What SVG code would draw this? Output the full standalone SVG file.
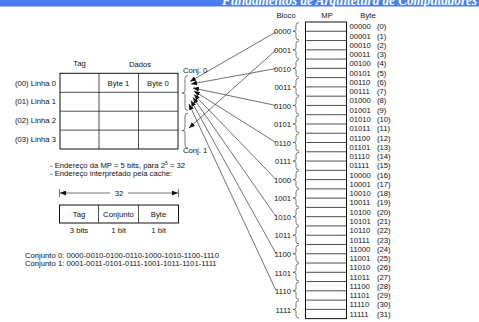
<svg xmlns="http://www.w3.org/2000/svg" width="479" height="322" viewBox="0 0 479 322">
<style>
text{font-family:"Liberation Sans",Arial,sans-serif;font-size:7.7px;fill:#111}
.c{text-anchor:middle}
.r{text-anchor:end}
.ln{fill:none;stroke:#111;stroke-width:0.6}
.bx{fill:#fff;stroke:#111;stroke-width:1}
.gr{fill:none;stroke:#222;stroke-width:0.8}
.br{fill:none;stroke:#222;stroke-width:0.6}
</style>
<defs>
<marker id="ah" markerUnits="userSpaceOnUse" markerWidth="6" markerHeight="5" refX="6" refY="2.5" orient="auto"><path d="M0,0 L6,2.5 L0,5 z" fill="#111"/></marker>
<path id="bm" d="M6.5,0.6 Q3.5,0.6 3.5,3 L3.5,7.4 Q3.5,9.27 0.5,9.27 Q3.5,9.27 3.5,11.1 L3.5,15.6 Q3.5,17.9 6.5,17.9"/>
<path id="bl" d="M6,0.5 Q3,0.5 3,3.5 L3,16 Q3,18 0,18 Q3,18 3,20 L3,32.5 Q3,35.5 6,35.5"/>
</defs>
<g id="header">
<rect x="0" y="0" width="479" height="6.5" fill="#4b7ff0"/>
<text x="222" y="4.5" style="font-family:'Liberation Serif',serif;font-size:14px;font-weight:bold;font-style:italic;fill:#fff" textLength="255" lengthAdjust="spacingAndGlyphs">Fundamentos de Arquitetura de Computadores</text>
</g>
<g id="cache">
<text class="c" x="79.5" y="65.5">Tag</text>
<text class="c" x="140" y="67">Dados</text>
<rect class="bx" x="60" y="73.3" width="118" height="75.7"/>
<path class="gr" d="M60,92.3H178M60,111.2H178M60,130.1H178M99,73.3V149M138.5,73.3V149"/>
<text class="c" x="118.5" y="85.5">Byte 1</text>
<text class="c" x="158" y="85.5">Byte 0</text>
<text class="r" x="56" y="85.5">(00) Linha 0</text>
<text class="r" x="56" y="104.3">(01) Linha 1</text>
<text class="r" x="56" y="123">(02) Linha 2</text>
<text class="r" x="56" y="142">(03) Linha 3</text>
</g>
<g id="conj0">
<text x="183" y="72.5">Conj. 0</text>
<use href="#bl" class="br" transform="translate(182,75)"/>
</g>
<g id="conj1">
<use href="#bl" class="br" transform="translate(182,112.5)"/>
<text x="183" y="153">Conj. 1</text>
</g>
<g id="notes">
<text x="50" y="167.5">- Endereço da MP = 5 bits, para 2<tspan dy="-2.5" style="font-size:5px">5</tspan><tspan dy="2.5"> = 32</tspan></text>
<text x="50" y="175.5">- Endereço interpretado pela cache:</text>
</g>
<g id="address">
<path class="ln" d="M59.5,189V197M178.5,189V197"/>
<path class="ln" d="M110,193H60" marker-end="url(#ah)"/>
<path class="ln" d="M128,193H178" marker-end="url(#ah)"/>
<text class="c" x="119" y="195.5">32</text>
<rect class="bx" x="59.5" y="205" width="119" height="18"/>
<path class="gr" d="M98.5,205V223M138.5,205V223"/>
<text class="c" x="79" y="216.5">Tag</text>
<text class="c" x="118.5" y="216.5">Conjunto</text>
<text class="c" x="158.5" y="216.5">Byte</text>
<text class="c" x="79" y="233">3 bits</text>
<text class="c" x="118.5" y="233">1 bit</text>
<text class="c" x="158.5" y="233">1 bit</text>
</g>
<g id="sets">
<text x="25" y="258">Conjunto 0: 0000-0010-0100-0110-1000-1010-1100-1110</text>
<text x="25" y="266">Conjunto 1: 0001-0011-0101-0111-1001-1011-1101-1111</text>
</g>
<g id="mp">
<text class="c" x="286" y="17.5">Bloco</text>
<text class="c" x="327" y="17.5">MP</text>
<text class="c" x="368" y="17.5">Byte</text>
<rect class="bx" x="305.5" y="22" width="41" height="296.64"/>
<path class="gr" d="M305.5,31.27H346.5M305.5,40.54H346.5M305.5,49.81H346.5M305.5,59.08H346.5M305.5,68.35H346.5M305.5,77.62H346.5M305.5,86.89H346.5M305.5,96.16H346.5M305.5,105.43H346.5M305.5,114.7H346.5M305.5,123.97H346.5M305.5,133.24H346.5M305.5,142.51H346.5M305.5,151.78H346.5M305.5,161.05H346.5M305.5,170.32H346.5M305.5,179.59H346.5M305.5,188.86H346.5M305.5,198.13H346.5M305.5,207.4H346.5M305.5,216.67H346.5M305.5,225.94H346.5M305.5,235.21H346.5M305.5,244.48H346.5M305.5,253.75H346.5M305.5,263.02H346.5M305.5,272.29H346.5M305.5,281.56H346.5M305.5,290.83H346.5M305.5,300.1H346.5M305.5,309.37H346.5"/>
</g>
<g id="blocks">
<g id="b0"><use href="#bm" class="br" transform="translate(292.5,22)"/><text class="r" x="291" y="34.4">0000</text></g>
<g id="b1"><use href="#bm" class="br" transform="translate(292.5,40.54)"/><text class="r" x="291" y="52.9">0001</text></g>
<g id="b2"><use href="#bm" class="br" transform="translate(292.5,59.08)"/><text class="r" x="291" y="71.5">0010</text></g>
<g id="b3"><use href="#bm" class="br" transform="translate(292.5,77.62)"/><text class="r" x="291" y="90">0011</text></g>
<g id="b4"><use href="#bm" class="br" transform="translate(292.5,96.16)"/><text class="r" x="291" y="108.6">0100</text></g>
<g id="b5"><use href="#bm" class="br" transform="translate(292.5,114.7)"/><text class="r" x="291" y="127.1">0101</text></g>
<g id="b6"><use href="#bm" class="br" transform="translate(292.5,133.24)"/><text class="r" x="291" y="145.7">0110</text></g>
<g id="b7"><use href="#bm" class="br" transform="translate(292.5,151.78)"/><text class="r" x="291" y="164.2">0111</text></g>
<g id="b8"><use href="#bm" class="br" transform="translate(292.5,170.32)"/><text class="r" x="291" y="182.8">1000</text></g>
<g id="b9"><use href="#bm" class="br" transform="translate(292.5,188.86)"/><text class="r" x="291" y="201.3">1001</text></g>
<g id="b10"><use href="#bm" class="br" transform="translate(292.5,207.4)"/><text class="r" x="291" y="219.9">1010</text></g>
<g id="b11"><use href="#bm" class="br" transform="translate(292.5,225.94)"/><text class="r" x="291" y="238.4">1011</text></g>
<g id="b12"><use href="#bm" class="br" transform="translate(292.5,244.48)"/><text class="r" x="291" y="257">1100</text></g>
<g id="b13"><use href="#bm" class="br" transform="translate(292.5,263.02)"/><text class="r" x="291" y="275.5">1101</text></g>
<g id="b14"><use href="#bm" class="br" transform="translate(292.5,281.56)"/><text class="r" x="291" y="294">1110</text></g>
<g id="b15"><use href="#bm" class="br" transform="translate(292.5,300.1)"/><text class="r" x="291" y="312.6">1111</text></g>
</g>
<g id="bytes">
<text x="349.5" y="29.3">00000</text><text x="377" y="29.3">(0)</text>
<text x="349.5" y="38.57">00001</text><text x="377" y="38.57">(1)</text>
<text x="349.5" y="47.84">00010</text><text x="377" y="47.84">(2)</text>
<text x="349.5" y="57.11">00011</text><text x="377" y="57.11">(3)</text>
<text x="349.5" y="66.38">00100</text><text x="377" y="66.38">(4)</text>
<text x="349.5" y="75.65">00101</text><text x="377" y="75.65">(5)</text>
<text x="349.5" y="84.92">00110</text><text x="377" y="84.92">(6)</text>
<text x="349.5" y="94.19">00111</text><text x="377" y="94.19">(7)</text>
<text x="349.5" y="103.46">01000</text><text x="377" y="103.46">(8)</text>
<text x="349.5" y="112.73">01001</text><text x="377" y="112.73">(9)</text>
<text x="349.5" y="122">01010</text><text x="377" y="122">(10)</text>
<text x="349.5" y="131.27">01011</text><text x="377" y="131.27">(11)</text>
<text x="349.5" y="140.54">01100</text><text x="377" y="140.54">(12)</text>
<text x="349.5" y="149.81">01101</text><text x="377" y="149.81">(13)</text>
<text x="349.5" y="159.08">01110</text><text x="377" y="159.08">(14)</text>
<text x="349.5" y="168.35">01111</text><text x="377" y="168.35">(15)</text>
<text x="349.5" y="177.62">10000</text><text x="377" y="177.62">(16)</text>
<text x="349.5" y="186.89">10001</text><text x="377" y="186.89">(17)</text>
<text x="349.5" y="196.16">10010</text><text x="377" y="196.16">(18)</text>
<text x="349.5" y="205.43">10011</text><text x="377" y="205.43">(19)</text>
<text x="349.5" y="214.7">10100</text><text x="377" y="214.7">(20)</text>
<text x="349.5" y="223.97">10101</text><text x="377" y="223.97">(21)</text>
<text x="349.5" y="233.24">10110</text><text x="377" y="233.24">(22)</text>
<text x="349.5" y="242.51">10111</text><text x="377" y="242.51">(23)</text>
<text x="349.5" y="251.78">11000</text><text x="377" y="251.78">(24)</text>
<text x="349.5" y="261.05">11001</text><text x="377" y="261.05">(25)</text>
<text x="349.5" y="270.32">11010</text><text x="377" y="270.32">(26)</text>
<text x="349.5" y="279.59">11011</text><text x="377" y="279.59">(27)</text>
<text x="349.5" y="288.86">11100</text><text x="377" y="288.86">(28)</text>
<text x="349.5" y="298.13">11101</text><text x="377" y="298.13">(29)</text>
<text x="349.5" y="307.4">11110</text><text x="377" y="307.4">(30)</text>
<text x="349.5" y="316.67">11111</text><text x="377" y="316.67">(31)</text>
</g>
<g id="connectors">
<path class="ln" d="M276,32 L190,81.5" marker-end="url(#ah)"/>
<path class="ln" d="M276,50 L189,128" marker-end="url(#ah)"/>
<path class="ln" d="M276,68.5 L191,84" marker-end="url(#ah)"/>
<path class="ln" d="M276,105.5 L193,88" marker-end="url(#ah)"/>
<path class="ln" d="M276,142.5 L194,91" marker-end="url(#ah)"/>
<path class="ln" d="M276,179.5 L194,94.5" marker-end="url(#ah)"/>
<path class="ln" d="M276,216.5 L193,97.5" marker-end="url(#ah)"/>
<path class="ln" d="M276,253.5 L191,100.5" marker-end="url(#ah)"/>
<path class="ln" d="M276,290.5 L189,104" marker-end="url(#ah)"/>
</g>
</svg>
